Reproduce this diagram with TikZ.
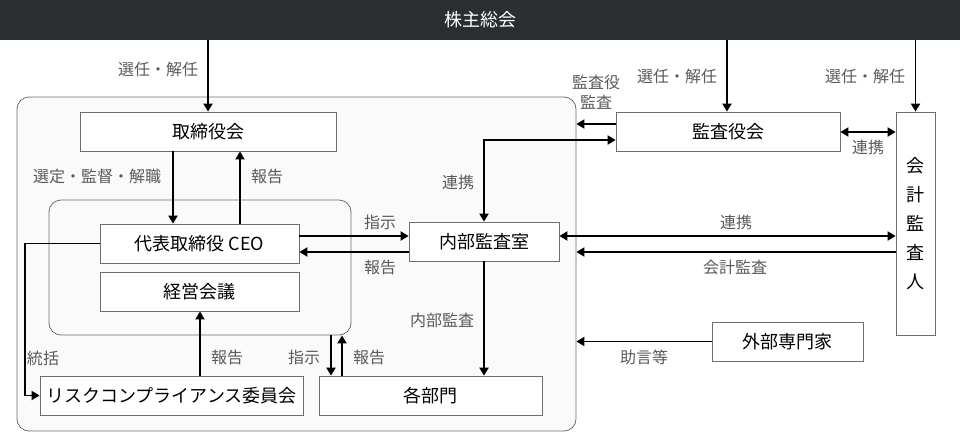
\documentclass[tikz,border=0pt]{standalone}
\usepackage{fontspec}
\setmainfont{Noto Sans CJK JP}
\usetikzlibrary{arrows.meta}
\definecolor{barc}{HTML}{2B2E30}
\definecolor{edgec}{HTML}{6E6E6E}
\definecolor{labc}{HTML}{5A5A5A}
\definecolor{grpc}{HTML}{FAFAFA}
\tikzset{
  box/.style={draw=edgec, line width=0.8pt, fill=white, inner sep=0pt, font=\fontsize{18}{22}\selectfont, text=black, minimum height=39pt},
  lab/.style={font=\fontsize{16}{20}\selectfont, text=labc, inner sep=0pt},
  arr/.style={line width=1.9pt, -{Triangle[length=8pt,width=9pt]}},
  darr/.style={line width=1.9pt, {Triangle[length=8pt,width=9pt]}-{Triangle[length=8pt,width=9pt]}},
  grp/.style={draw=edgec, line width=0.8pt, fill=grpc, rounded corners=12pt, inner sep=0pt}
}
\begin{document}
\begin{tikzpicture}[x=1pt,y=-1pt]
\useasboundingbox (0,0) rectangle (960,432);
% groups
\node[grp, minimum width=559pt, minimum height=334pt] (outer) at (296.5,264) {};
\node[grp, minimum width=302pt, minimum height=135pt] (inner) at (200,267.5) {};
% top bar
\node[fill=barc, minimum width=960pt, minimum height=40pt, inner sep=0pt, text=white, font=\fontsize{18}{22}\selectfont] (bar) at (480,20) {株主総会};
% boxes
\node[box, minimum width=256pt] (torishimari) at (208,131.5) {取締役会};
\node[box, minimum width=199pt] (ceo) at (199.5,243.5) {代表取締役 CEO};
\node[box, minimum width=199pt] (keiei) at (199.5,291.5) {経営会議};
\node[box, minimum width=150pt] (naibu) at (484,241.5) {内部監査室};
\node[box, minimum width=223pt] (kakubu) at (430.5,395.5) {各部門};
\node[box, minimum width=263pt] (risk) at (171.5,395.5) {リスクコンプライアンス委員会};
\node[box, minimum width=224pt] (kansayaku) at (728,131.5) {監査役会};
\node[box, minimum width=39pt, minimum height=223pt, align=center, font=\fontsize{18}{28.8}\selectfont] (kaikei) at (915.5,223.5) {会\\計\\監\\査\\人};
\node[box, minimum width=151pt] (gaibu) at (787.5,341.5) {外部専門家};
% helper coordinates
\coordinate (y124) at (0,124);
\coordinate (y132) at (0,132);
\coordinate (y140) at (0,140);
\coordinate (y236) at (0,236);
\coordinate (y252) at (0,252);
\coordinate (x25) at (25,0);
\coordinate (x173) at (173,0);
\coordinate (x200) at (200,0);
\coordinate (x240) at (240,0);
\coordinate (x331) at (331,0);
\coordinate (x342) at (342,0);
\coordinate (x727) at (727,0);
% connectors
\draw[arr] (bar.south -| torishimari.north) -- (torishimari.north);
\draw[arr] (bar.south -| x727) -- (x727 |- kansayaku.north);
\draw[arr] (bar.south -| kaikei.north) -- (kaikei.north);
\draw[arr] (torishimari.south -| x173) -- (ceo.north -| x173);
\draw[arr] (ceo.north -| x240) -- (torishimari.south -| x240);
\draw[arr] (ceo.east |- y236) -- (naibu.west |- y236);
\draw[arr] (naibu.west |- y252) -- (ceo.east |- y252);
\draw[arr] (naibu.south) -- (naibu.south |- kakubu.north);
\draw[darr] (kansayaku.west |- y140) -- (naibu.north |- y140) -- (naibu.north);
\draw[arr] (kansayaku.west |- y124) -- (outer.east |- y124);
\draw[darr] (kansayaku.east |- y132) -- (kaikei.west |- y132);
\draw[darr] (naibu.east |- y236) -- (kaikei.west |- y236);
\draw[arr] (kaikei.west |- y252) -- (outer.east |- y252);
\draw[arr] (gaibu.west) -- (outer.east |- gaibu.west);
\draw[arr] (ceo.west) -- (x25 |- ceo.west) -- (x25 |- risk.west) -- (risk.west);
\draw[arr] (risk.north -| x200) -- (keiei.south -| x200);
\draw[arr] (inner.south -| x331) -- (kakubu.north -| x331);
\draw[arr] (kakubu.north -| x342) -- (inner.south -| x342);
% labels
\node[lab] (l1) at (158,69) {選任・解任};
\node[lab] (l2) at (97,176) {選定・監督・解職};
\node[lab] (l3) at (267,176) {報告};
\node[lab] (l4) at (458,182) {連携};
\node[lab] (l5) at (380,222) {指示};
\node[lab] (l6) at (380,267) {報告};
\node[lab] (l7) at (442,320) {内部監査};
\node[lab] (l8) at (43,358) {統括};
\node[lab] (l9) at (227,357) {報告};
\node[lab] (l10) at (304,357) {指示};
\node[lab] (l11) at (369,357) {報告};
\node[lab, align=center] (l12) at (596,92) {監査役\\監査};
\node[lab] (l13) at (677,76) {選任・解任};
\node[lab] (l14) at (865,76) {選任・解任};
\node[lab] (l15) at (868,147) {連携};
\node[lab] (l16) at (736,222) {連携};
\node[lab] (l17) at (735,267) {会計監査};
\node[lab] (l18) at (644,357) {助言等};
\end{tikzpicture}
\end{document}
